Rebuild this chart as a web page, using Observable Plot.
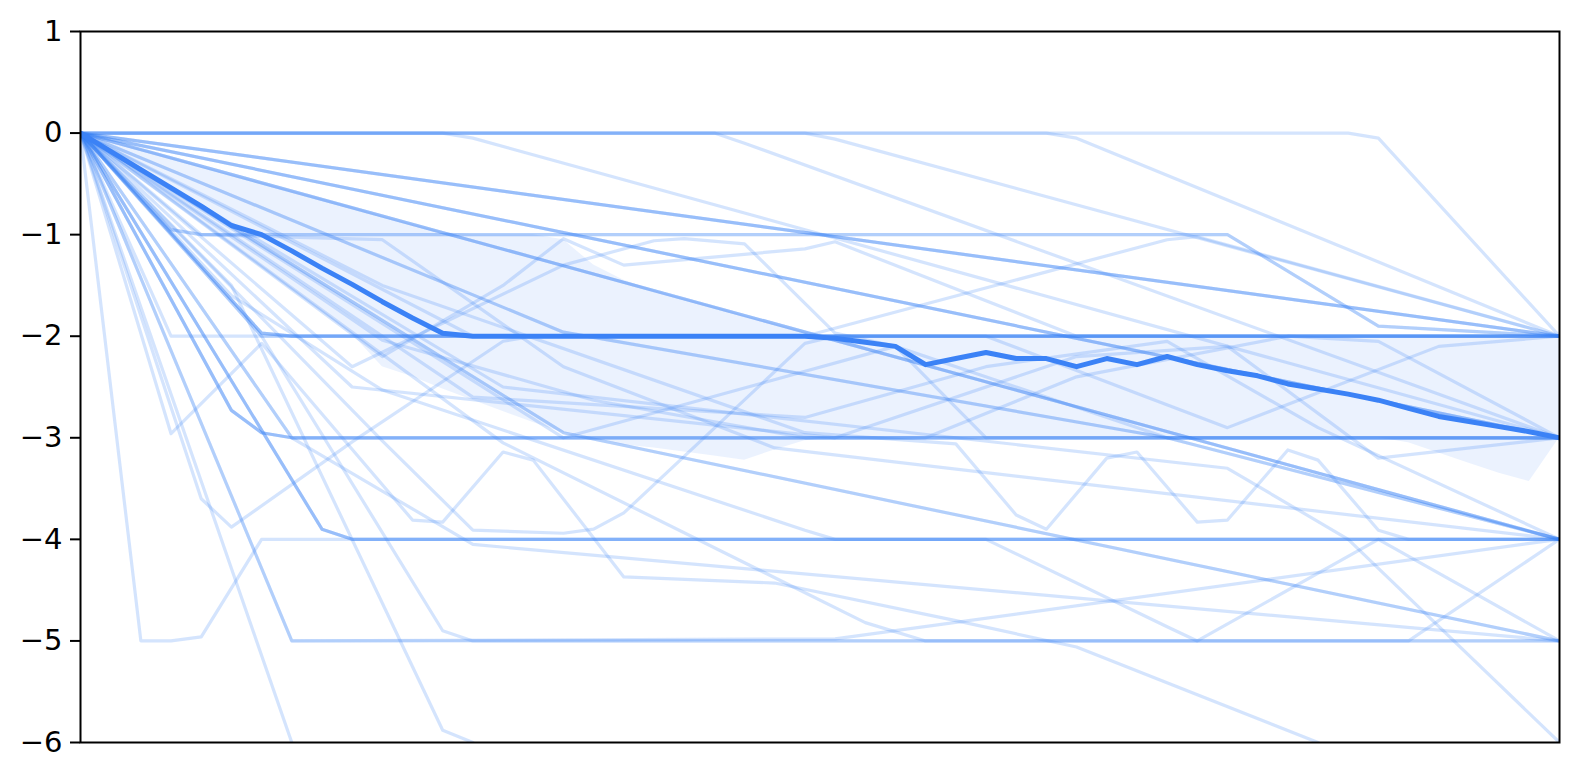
<!DOCTYPE html>
<html>
<head>
<meta charset="utf-8">
<script src="https://cdn.jsdelivr.net/npm/d3@7"></script>
<script src="https://cdn.jsdelivr.net/npm/@observablehq/plot@0.6"></script>
<style>
  html, body { margin: 0; padding: 0; background: #ffffff; }
  #chart svg { display: block; }
</style>
</head>
<body>
<div id="chart"></div>
<script>
// y-axis tick values
const yTicks = [1, 0, -1, -2, -3, -4, -5, -6];

// central (median) path, one value per step 0..49
const medianValues = [0, -0.18, -0.36, -0.54, -0.72, -0.91, -1.0, -1.16, -1.33, -1.49,
  -1.66, -1.82, -1.97, -2.0, -2.0, -2.0, -2.0, -2.0, -2.0, -2.0,
  -2.0, -2.0, -2.0, -2.0, -2.0, -2.02, -2.06, -2.1, -2.28, -2.22,
  -2.16, -2.22, -2.22, -2.3, -2.22, -2.28, -2.2, -2.28, -2.34, -2.39,
  -2.47, -2.52, -2.57, -2.63, -2.71, -2.79, -2.84, -2.89, -2.94, -3.0];

// shaded band: upper and lower edges per step
const bandHigh = [0, -0.08, -0.16, -0.24, -0.33, -0.41, -0.49, -0.57, -0.65, -0.73,
  -0.82, -0.9, -0.98, -1.0, -1.0, -1.0, -1.05, -1.3, -1.45, -1.55,
  -1.63, -1.71, -1.8, -1.88, -1.96, -2.0, -2.0, -2.0, -2.0, -2.0,
  -2.0, -2.0, -2.0, -2.0, -2.0, -2.0, -2.0, -2.0, -2.0, -2.0,
  -2.0, -2.0, -2.0, -2.0, -2.0, -2.0, -2.0, -2.0, -2.0, -2.0];
const bandLow = [0, -0.22, -0.44, -0.66, -0.88, -1.1, -1.32, -1.54, -1.76, -1.98,
  -2.3, -2.4, -2.52, -2.63, -2.74, -2.85, -2.95, -3.0, -3.07, -3.1,
  -3.14, -3.18, -3.22, -3.12, -3.03, -3.0, -3.0, -3.0, -3.0, -3.0,
  -3.0, -3.0, -3.0, -3.0, -3.0, -3.0, -3.0, -3.0, -3.0, -3.0,
  -3.0, -3.0, -3.0, -3.0, -3.05, -3.15, -3.25, -3.35, -3.43, -3.0];

// individual trajectories: [step, value] vertices
const trajectories = [
  [[0,0],[49,-2]], [[0,0],[49,-2]], [[0,0],[49,-2]],
  [[0,0],[49,-3]], [[0,0],[49,-3]], [[0,0],[49,-3]],
  [[0,0],[49,-4]], [[0,0],[49,-4]], [[0,0],[49,-4]],
  [[0,0],[16,-1.96],[36,-3],[49,-4]], [[0,0],[16,-1.96],[36,-3],[49,-4]],
  [[0,0],[16,-2.95],[49,-5]], [[0,0],[16,-2.95],[49,-5]],
  [[0,0],[6,-1.97],[7,-2],[49,-2]], [[0,0],[6,-1.97],[7,-2],[49,-2]], [[0,0],[6,-1.97],[7,-2],[49,-2]],
  [[0,0],[3,-2],[49,-2]],
  [[0,0],[5,-2.73],[6,-2.95],[7,-3],[49,-3]], [[0,0],[5,-2.73],[6,-2.95],[7,-3],[49,-3]], [[0,0],[5,-2.73],[6,-2.95],[7,-3],[49,-3]],
  [[0,0],[8,-3.9],[9,-4],[49,-4]], [[0,0],[8,-3.9],[9,-4],[49,-4]],
  [[0,0],[2,-5],[3,-5],[4,-4.96],[6,-4],[49,-4]],
  [[0,0],[7,-5],[49,-5]],
  [[0,0],[7,-6],[8,-6.9]],
  [[0,0],[6,-2],[12,-4.9],[13,-5],[49,-5]],
  [[0,0],[5,-1.5],[12,-5.88],[13,-6],[14,-6.4]],
  [[0,0],[3,-2.96],[6,-2.07],[11,-3.81],[12,-3.83],[14,-3.14],[15,-3.22],[18,-4.37],[23,-4.43],[29,-4.8],[33,-5.06],[41,-6]],
  [[0,0],[4,-3.6],[5,-3.88],[9,-3.04],[14,-2.05],[15,-2],[49,-2]],
  [[0,0],[12,0],[13,-0.05],[49,-3]],
  [[0,0],[21,0],[22,-0.1],[49,-3]],
  [[0,0],[24,0],[25,-0.06],[49,-2]],
  [[0,0],[32,0],[33,-0.05],[49,-2]],
  [[0,0],[42,0],[43,-0.05],[49,-2]],
  [[0,0],[3,-0.95],[4,-1],[38,-1],[43,-1.9],[49,-2]], [[0,0],[3,-0.95],[4,-1],[38,-1],[43,-1.9],[49,-2]],
  [[0,0],[4,-1],[10,-1.05],[16,-2.3],[23,-3.1],[49,-4]],
  [[0,0],[10,-1.5],[24,-2.95],[29,-3.06],[31,-3.76],[32,-3.9],[34,-3.2],[35,-3.14],[37,-3.83],[38,-3.81],[40,-3.12],[41,-3.22],[43,-3.91],[44,-4],[49,-4]],
  [[0,0],[6,-2],[24,-2],[36,-1.05],[37,-1.02],[49,-2]],
  [[0,0],[9,-2.3],[16,-1.3],[19,-1.06],[20,-1.04],[22,-1.09],[25,-1.97],[27,-2.1],[30,-3],[49,-3]],
  [[0,0],[10,-2.2],[14,-1.5],[16,-1.04],[18,-1.3],[24,-1.14],[25,-1.07],[33,-2],[49,-2]],
  [[0,0],[7,-5],[25,-4.98],[49,-4]],
  [[0,0],[14,-3.05],[26,-4.82],[28,-5],[44,-5],[49,-4]],
  [[0,0],[8,-3.9],[9,-4],[30,-4],[36,-4.86],[37,-5],[43,-4],[49,-5]],
  [[0,0],[14,-2.5],[38,-3.3],[42,-4],[49,-6]],
  [[0,0],[7,-3],[13,-4.05],[49,-5]],
  [[0,0],[7,-3],[28,-3],[33,-2.4],[40,-2],[43,-2.05],[49,-3]],
  [[0,0],[13,-2],[30,-2],[38,-2.9],[45,-2.1],[49,-2]],
  [[0,0],[16,-3],[27,-2.1],[36,-3],[49,-3]],
  [[0,0],[9,-2.5],[25,-3],[33,-2.2],[38,-2.1],[43,-3.2],[49,-3]],
  [[0,0],[13,-2.6],[24,-2.8],[30,-2.3],[36,-2.05],[41,-2.9],[49,-4]],
  [[0,0],[10,-3.03],[13,-3.91],[16,-3.94],[17,-3.9],[18,-3.74],[24,-2.07],[25,-2],[49,-2]],
  [[0,0],[5,-1.6],[10,-2.53],[24,-3.91],[25,-4],[49,-4]],
  [[0,0],[10,-2.04],[17,-2.63],[24,-3],[49,-3]]
];

const blue = "#3b82f6";

const lineRows = trajectories.flatMap((pts, id) => pts.map(([x, y]) => ({id, x, y})));
const centerRows = medianValues.map((y, x) => ({x, y}));
const bandRows = bandHigh.map((hi, x) => ({x, hi, lo: bandLow[x]}));

const chart = Plot.plot({
  width: 1580,
  height: 780,
  marginLeft: 80,
  marginRight: 21,
  marginTop: 31,
  marginBottom: 38,
  style: {fontFamily: "DejaVu Sans", fontSize: "29px", color: "black", background: "white"},
  x: {domain: [0, 49], axis: null},
  y: {domain: [-6, 1], ticks: yTicks},
  marks: [
    Plot.line(lineRows, {x: "x", y: "y", z: "id", stroke: blue, strokeOpacity: 0.22, strokeWidth: 3.2, clip: true}),
    Plot.areaY(bandRows, {x: "x", y1: "lo", y2: "hi", fill: blue, fillOpacity: 0.1, clip: true}),
    Plot.line(centerRows, {x: "x", y: "y", stroke: blue, strokeWidth: 5, clip: true}),
    Plot.axisY({ticks: yTicks, tickFormat: d3.format("d"), tickSize: 10, tickPadding: 8, fontSize: 29, stroke: "black", strokeWidth: 2}),
    Plot.frame({stroke: "black", strokeWidth: 2})
  ]
});
document.getElementById("chart").appendChild(chart);
</script>
</body>
</html>
